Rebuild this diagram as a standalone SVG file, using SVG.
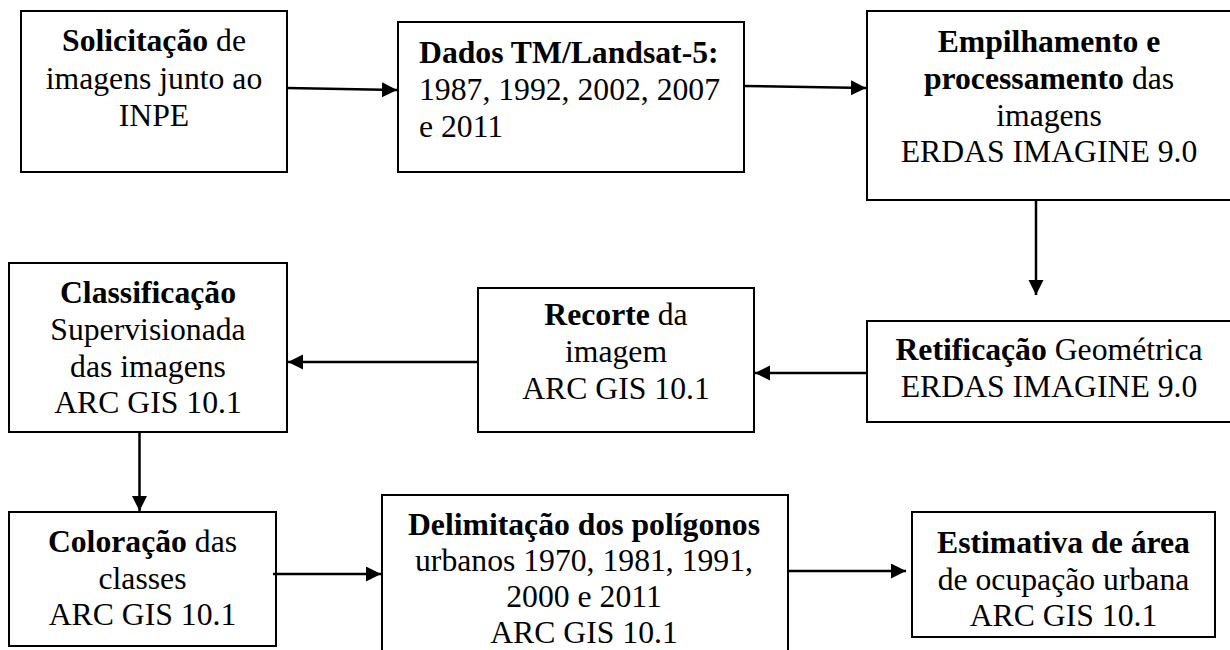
<svg xmlns="http://www.w3.org/2000/svg" width="1230" height="650" viewBox="0 0 1230 650">
<style>
.box{fill:#fff;stroke:#000;stroke-width:2}
.t{font-family:'Liberation Serif','DejaVu Serif',serif;font-size:31.7px;fill:#000}
.c{text-anchor:middle}
.b{font-weight:bold}
.con{stroke:#000;stroke-width:2.5;fill:none;marker-end:url(#ah)}
</style>
<defs>
<marker id="ah" markerUnits="userSpaceOnUse" markerWidth="16" markerHeight="16" refX="15" refY="7.5" orient="auto">
<path d="M0,0 L15,7.5 L0,15 Z" fill="#000"/>
</marker>
</defs>
<rect width="1230" height="650" fill="#fff"/>
<g id="n1">
<rect class="box" x="21" y="11" width="266" height="161"/>
<text class="t c" x="154" y="51"><tspan class="b">Solicitação</tspan> de</text>
<text class="t c" x="154" y="88.5">imagens junto ao</text>
<text class="t c" x="154" y="126">INPE</text>
</g>
<g id="n2">
<rect class="box" x="398" y="22" width="346" height="150"/>
<text class="t b" x="419" y="62.5">Dados TM/Landsat-5:</text>
<text class="t" x="419" y="99.5">1987, 1992, 2002, 2007</text>
<text class="t" x="419" y="136.5">e 2011</text>
</g>
<g id="n3">
<rect class="box" x="867" y="11" width="365" height="189"/>
<text class="t c b" x="1049" y="52">Empilhamento e</text>
<text class="t c" x="1049" y="89"><tspan class="b">processamento</tspan> das</text>
<text class="t c" x="1049" y="125.5">imagens</text>
<text class="t c" x="1049" y="162">ERDAS IMAGINE 9.0</text>
</g>
<g id="n4">
<rect class="box" x="867" y="321" width="365" height="101"/>
<text class="t c" x="1049" y="360"><tspan class="b">Retificação</tspan> Geométrica</text>
<text class="t c" x="1049" y="397">ERDAS IMAGINE 9.0</text>
</g>
<g id="n5">
<rect class="box" x="478" y="288" width="276" height="144"/>
<text class="t c" x="616" y="325"><tspan class="b">Recorte</tspan> da</text>
<text class="t c" x="616" y="362">imagem</text>
<text class="t c" x="616" y="399">ARC GIS 10.1</text>
</g>
<g id="n6">
<rect class="box" x="9" y="263" width="278" height="169"/>
<text class="t c b" x="148" y="303">Classificação</text>
<text class="t c" x="148" y="340">Supervisionada</text>
<text class="t c" x="148" y="376.5">das imagens</text>
<text class="t c" x="148" y="413">ARC GIS 10.1</text>
</g>
<g id="n7">
<rect class="box" x="9" y="512" width="267" height="134"/>
<text class="t c" x="142.5" y="551.5"><tspan class="b">Coloração</tspan> das</text>
<text class="t c" x="142.5" y="588.5">classes</text>
<text class="t c" x="142.5" y="625">ARC GIS 10.1</text>
</g>
<g id="n8">
<rect class="box" x="382" y="495" width="406" height="170"/>
<text class="t c b" x="584" y="535">Delimitação dos polígonos</text>
<text class="t c" x="584" y="571">urbanos 1970, 1981, 1991,</text>
<text class="t c" x="584" y="607">2000 e 2011</text>
<text class="t c" x="584" y="643">ARC GIS 10.1</text>
</g>
<g id="n9">
<rect class="box" x="912" y="512" width="303" height="125"/>
<text class="t c b" x="1063.5" y="553">Estimativa de área</text>
<text class="t c" x="1063.5" y="589.5">de ocupação urbana</text>
<text class="t c" x="1063.5" y="626">ARC GIS 10.1</text>
</g>
<g id="connectors">
<line class="con" x1="287" y1="88" x2="397" y2="90"/>
<line class="con" x1="744" y1="86" x2="866" y2="88"/>
<line class="con" x1="1036" y1="200" x2="1036" y2="295"/>
<line class="con" x1="867" y1="373" x2="755" y2="373"/>
<line class="con" x1="478" y1="362" x2="288" y2="362"/>
<line class="con" x1="139.5" y1="432" x2="139.5" y2="511"/>
<line class="con" x1="273" y1="574" x2="381" y2="574"/>
<line class="con" x1="788" y1="571" x2="906" y2="571"/>
</g>
</svg>
